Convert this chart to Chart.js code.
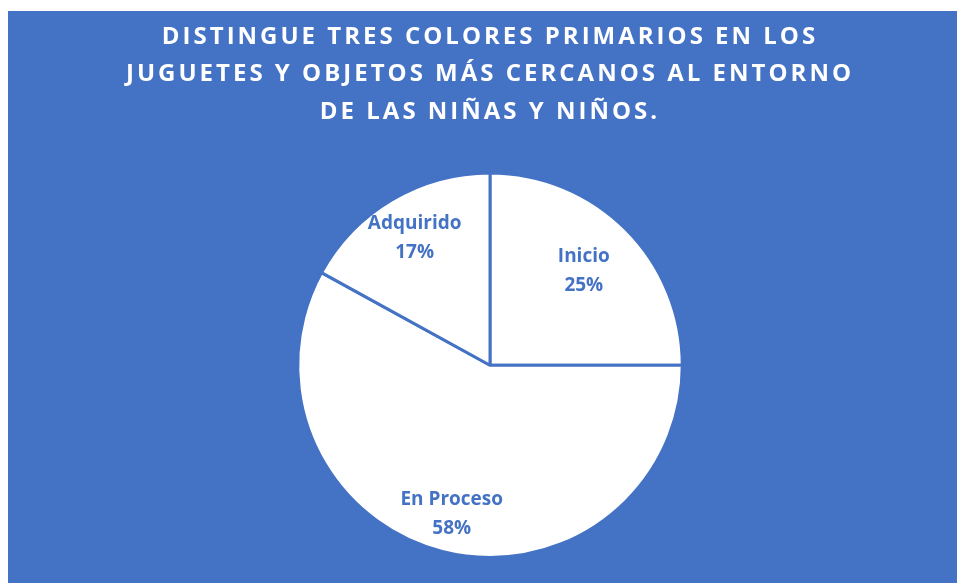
<!DOCTYPE html>
<html>
<head>
<meta charset="utf-8">
<script src="https://cdn.jsdelivr.net/npm/chart.js@4/dist/chart.umd.min.js"></script>
<style>
  body { margin: 0; background: #fff; width: 957px; height: 583px; overflow: hidden; position: relative; }
  #box { position: absolute; left: 8px; top: 11px; width: 964px; height: 572px; background: #4472C4; }
</style>
</head>
<body>
<div id="box"><canvas id="pie"></canvas></div>
<script>
const categories = ['Inicio', 'En Proceso', 'Adquirido'];
const percents = [25, 58, 17];
const titleLines = [
  'DISTINGUE TRES COLORES PRIMARIOS EN LOS',
  'JUGUETES Y OBJETOS MÁS CERCANOS AL ENTORNO',
  'DE LAS NIÑAS Y NIÑOS.'
];

const blue = '#4472C4';
const labelDist = [0.69, 0.8, 0.77];

const spacing = {
  id: 'spacing',
  beforeDraw(chart) { chart.ctx.letterSpacing = '3px'; },
  beforeDatasetsDraw(chart) { chart.ctx.letterSpacing = '0px'; }
};

const sliceLabels = {
  id: 'sliceLabels',
  afterDatasetsDraw(chart) {
    const ctx = chart.ctx;
    const arcs = chart.getDatasetMeta(0).data;
    ctx.save();
    ctx.fillStyle = blue;
    ctx.font = 'bold 19px "Open Sans"';
    ctx.textAlign = 'center';
    ctx.textBaseline = 'middle';
    arcs.forEach((arc, i) => {
      const p = arc.getProps(['x', 'y', 'startAngle', 'endAngle', 'outerRadius'], true);
      const mid = (p.startAngle + p.endAngle) / 2;
      const d = p.outerRadius * labelDist[i];
      const x = p.x + Math.cos(mid) * d;
      const y = p.y + Math.sin(mid) * d;
      ctx.fillText(categories[i], x, y - 14.5);
      ctx.fillText(percents[i] + '%', x, y + 14.5);
    });
    ctx.restore();
  }
};

new Chart(document.getElementById('pie'), {
  type: 'pie',
  data: {
    labels: categories,
    datasets: [{
      data: percents,
      backgroundColor: '#ffffff',
      borderColor: blue,
      borderWidth: 3,
      hoverOffset: 0
    }]
  },
  options: {
    responsive: true,
    maintainAspectRatio: false,
    animation: false,
    layout: { padding: { bottom: 24 } },
    plugins: {
      legend: { display: false },
      tooltip: { enabled: false },
      title: {
        display: true,
        text: titleLines,
        color: '#ffffff',
        font: { family: '"Open Sans"', size: 24, weight: 'bold', lineHeight: 1.5625 },
        padding: { top: 7, bottom: 41 }
      }
    }
  },
  plugins: [spacing, sliceLabels]
});
</script>
</body>
</html>
